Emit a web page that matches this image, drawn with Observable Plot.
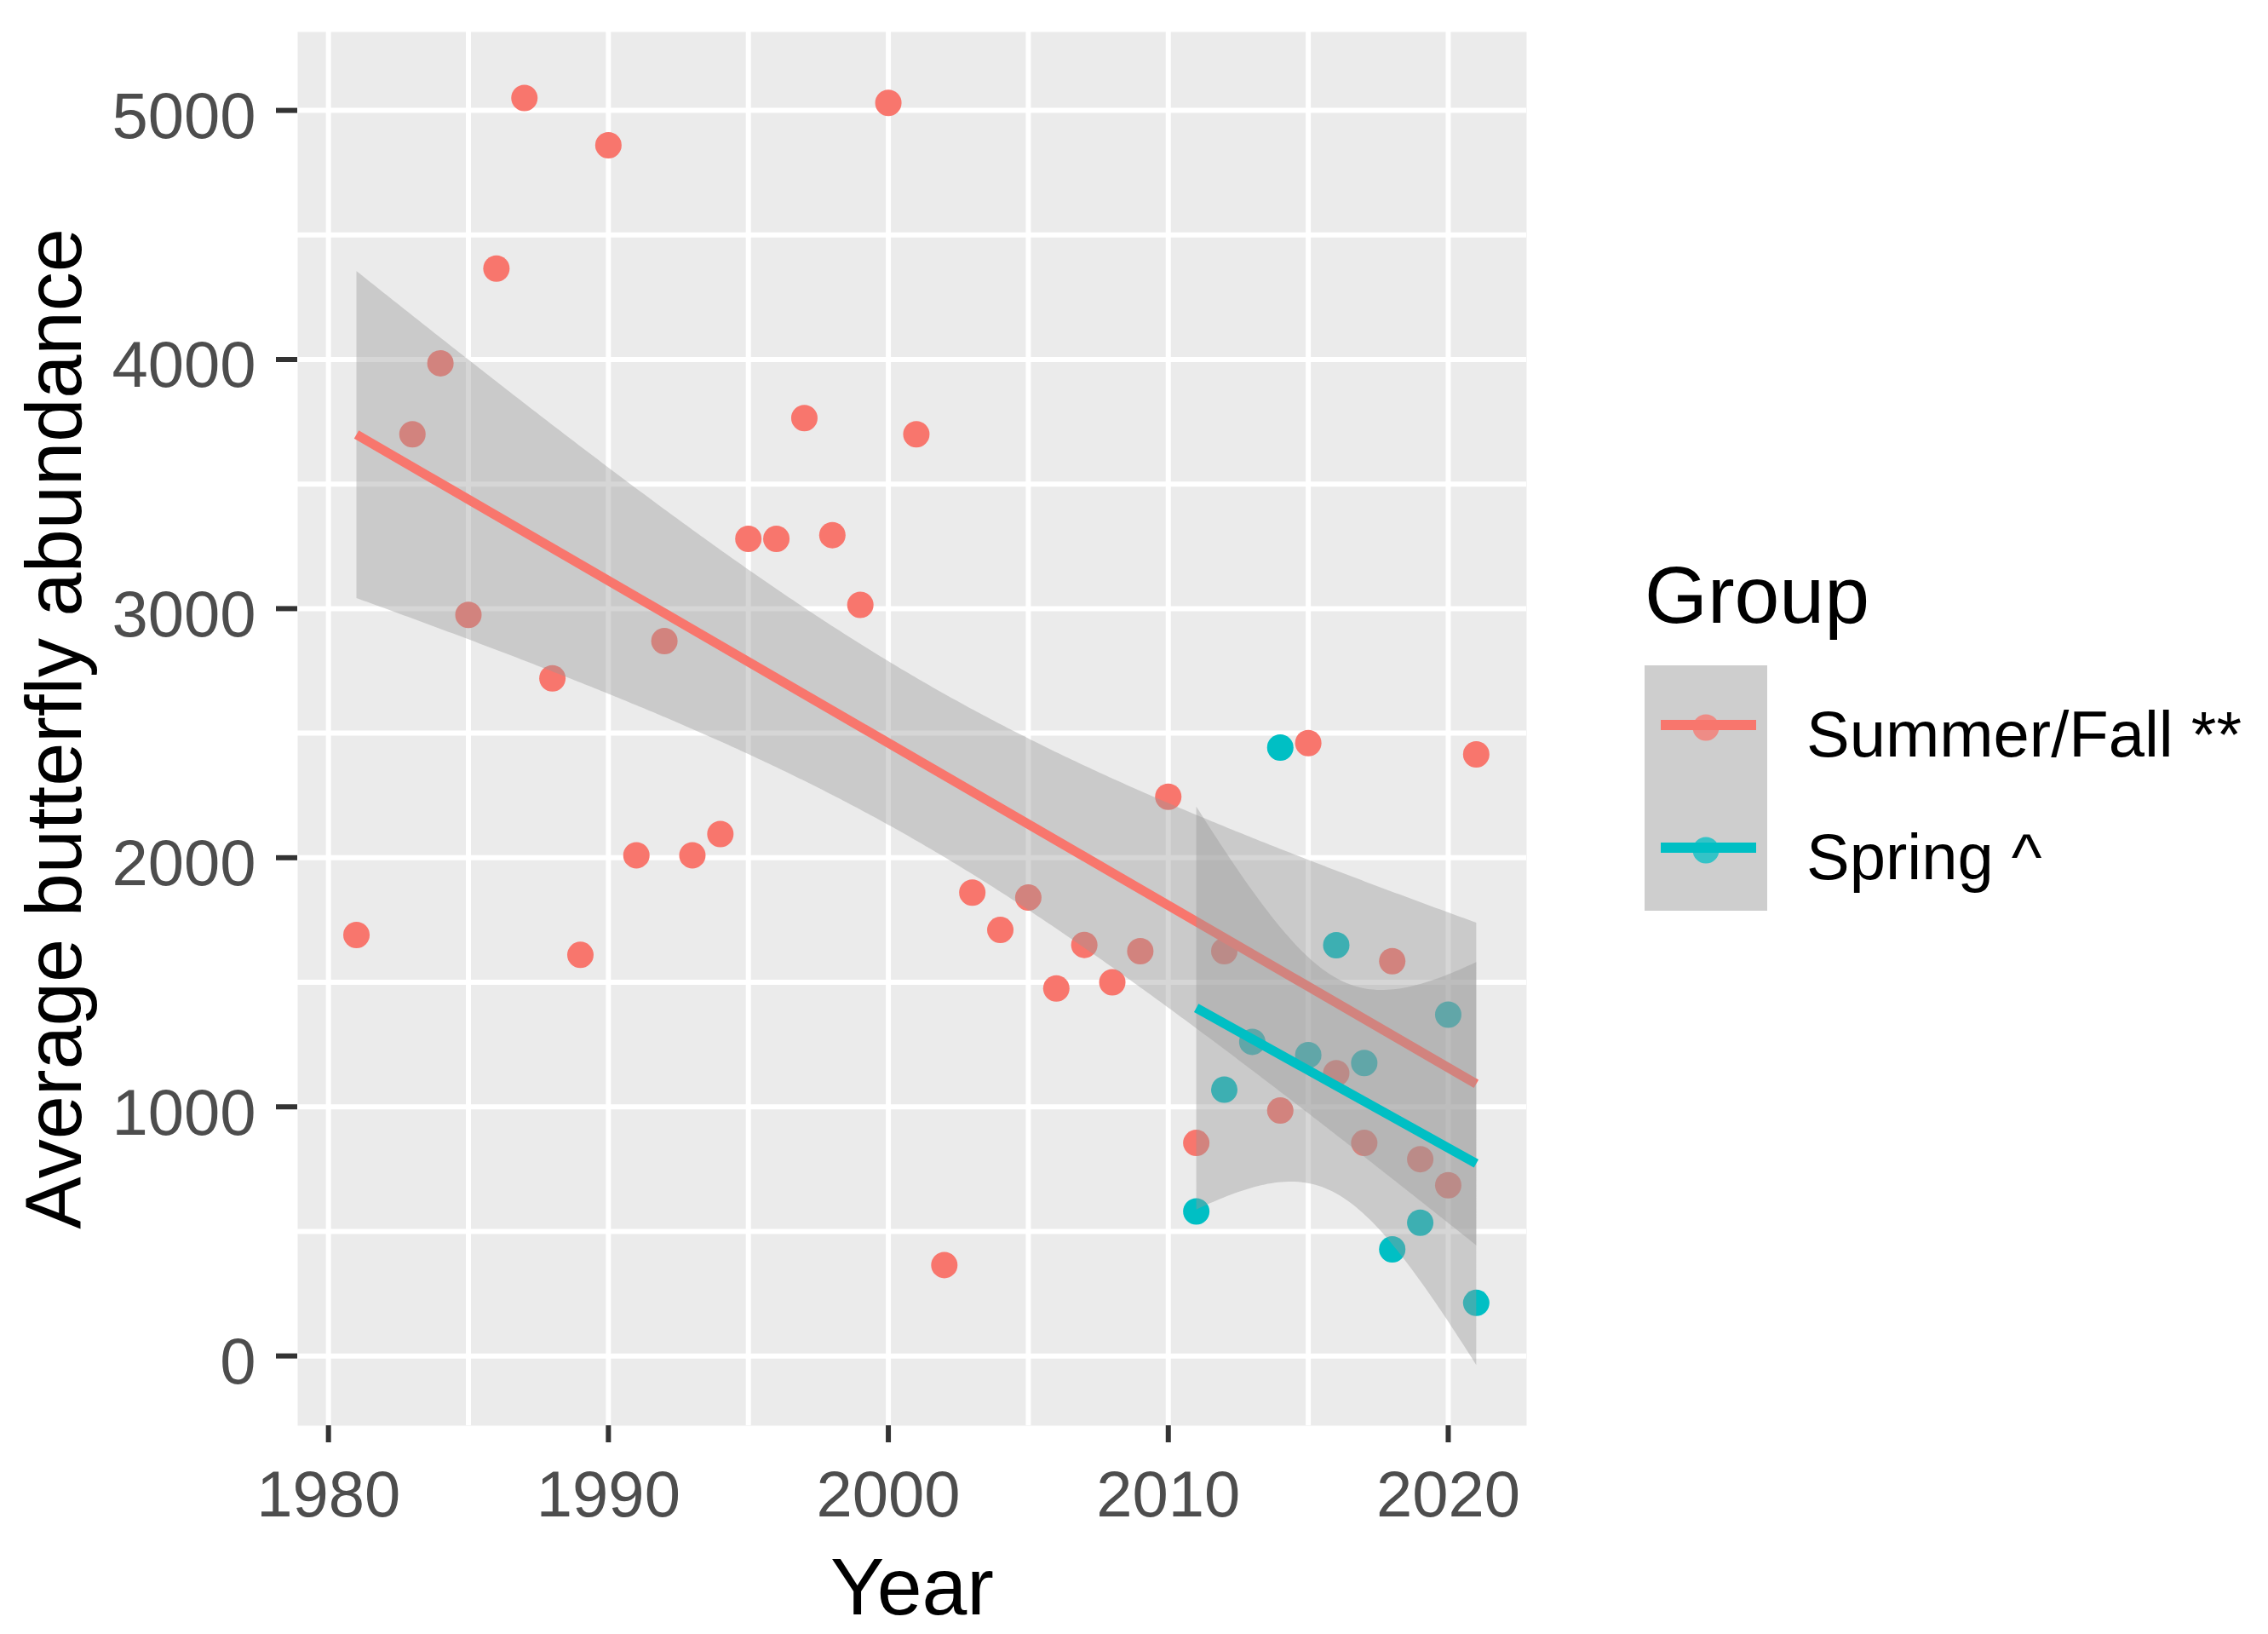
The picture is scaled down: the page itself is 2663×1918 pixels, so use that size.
<!DOCTYPE html>
<html><head><meta charset="utf-8">
<script src="https://cdn.jsdelivr.net/npm/d3@7"></script>
<script src="https://cdn.jsdelivr.net/npm/@observablehq/plot@0.6"></script>
<style>
html,body{margin:0;padding:0;background:#fff;}
#chart{position:relative;width:2663px;height:1918px;overflow:hidden;}
#chart svg{position:absolute;left:0;top:0;}
g[aria-label="x-axis label"]{fill:#000;font-size:95px;}
g[aria-label="x-axis label"] text{fill:#000;font-size:95px;}
g[aria-label="y-axis label"]{fill:#000;font-size:92px;}
g[aria-label="y-axis label"] text{fill:#000;font-size:92px;}
</style></head><body><div id="chart"></div>
<script>
// ---- data ----
const summerYears  = [1981,1983,1984,1985,1986,1987,1988,1989,1990,1991,1992,1993,1994,1995,1996,1997,1998,1999,2000,2001,2002,2003,2004,2005,2006,2007,2008,2009,2010,2011,2012,2014,2015,2016,2017,2018,2019,2020,2021];
const summerValues = [1690,3700,3985,2975,4365,5050,2720,1610,4860,2010,2870,2010,2095,3280,3280,3765,3295,3015,5030,3700,365,1860,1710,1840,1475,1650,1500,1625,2245,855,1625,985,2460,1135,855,1585,790,685,2415];
const springYears  = [2011,2012,2013,2014,2015,2016,2017,2018,2019,2020,2021];
const springValues = [580,1069,1261,2442,1208,1649,1176,428,535,1370,213];
const groups = ["Summer/Fall **", "Spring ^"];
const groupColors = ["#F8766D", "#00BFC4"];
const xTicks = [1980, 1990, 2000, 2010, 2020];
const xMinor = [1985, 1995, 2005, 2015];
const yTicks = [0, 1000, 2000, 3000, 4000, 5000];
const yMinor = [500, 1500, 2500, 3500, 4500];
const xLabel = "Year";
const yLabel = "Average butterfly abundance";
const legendTitle = "Group";

const data = [
  ...summerYears.map((x, i) => ({year: x, value: summerValues[i], group: groups[0]})),
  ...springYears.map((x, i) => ({year: x, value: springValues[i], group: groups[1]}))
];

const font = '"Liberation Sans", Arial, sans-serif';
const gridStyle = {stroke: "white", strokeOpacity: 1, strokeWidth: 6};
const fmt = d => String(d);

const plot = Plot.plot({
  width: 2663, height: 1918,
  marginLeft: 349, marginRight: 871, marginTop: 37, marginBottom: 245,
  style: {fontFamily: font, fontSize: "76px", background: "white", overflow: "visible"},
  x: {domain: [1978.9, 2022.8]},
  y: {domain: [-280, 5315]},
  color: {domain: groups, range: groupColors},
  marks: [
    Plot.frame({fill: "#EBEBEB", stroke: null}),
    Plot.gridX(xMinor, gridStyle),
    Plot.gridY(yMinor, gridStyle),
    Plot.gridX(xTicks, gridStyle),
    Plot.gridY(yTicks, gridStyle),
    Plot.axisX(xTicks, {tickSize: 20, tickPadding: 33, fill: "#4D4D4D", stroke: "#333333", strokeWidth: 6,
      tickFormat: fmt, label: xLabel, labelAnchor: "center", labelOffset: 221, labelArrow: "none"}),
    Plot.axisY(yTicks, {tickSize: 25, stroke: "#333333", strokeWidth: 6, tickFormat: () => "", label: null}),
    Plot.axisY(yTicks, {tickSize: 0, tickPadding: 49, dy: 8, fill: "#4D4D4D", stroke: "#333333",
      tickFormat: fmt, label: yLabel, labelAnchor: "center", labelOffset: 320, labelArrow: "none"}),
    Plot.dot(data, {x: "year", y: "value", fill: "group", r: 15.5, stroke: null}),
    Plot.linearRegressionY(data, {x: "year", y: "value", z: "group", stroke: "group",
      fill: "#999999", fillOpacity: 0.4, strokeWidth: 11, strokeLinecap: "butt", ci: 0.95})
  ]
});
document.getElementById("chart").appendChild(plot);

// ---- legend (to the right of the panel) ----
const color = plot.scale("color");
const lg = d3.select("#chart").append("svg")
  .attr("width", 2663).attr("height", 1918)
  .style("font-family", font);
lg.append("text").attr("x", 1931).attr("y", 731).attr("font-size", 95).attr("fill", "#000").text(legendTitle);
const keyTop = 781, keyH = 144, keyX = 1931, keyW = 144;
lg.append("rect").attr("x", keyX).attr("y", keyTop).attr("width", keyW).attr("height", keyH * groups.length).attr("fill", "#CECECE");
groups.forEach((g, i) => {
  const cy = keyTop + keyH * i + 70;
  lg.append("circle").attr("cx", keyX + keyW / 2).attr("cy", cy + 3).attr("r", 15.5)
    .attr("fill", color.apply(g)).attr("opacity", 0.75);
  lg.append("line").attr("x1", keyX + 19).attr("x2", keyX + keyW - 13).attr("y1", cy).attr("y2", cy)
    .attr("stroke", color.apply(g)).attr("stroke-width", 12);
  lg.append("text").attr("x", 2121).attr("y", cy + 37).attr("font-size", 76).attr("fill", "#000").text(g);
});
</script></body></html>
